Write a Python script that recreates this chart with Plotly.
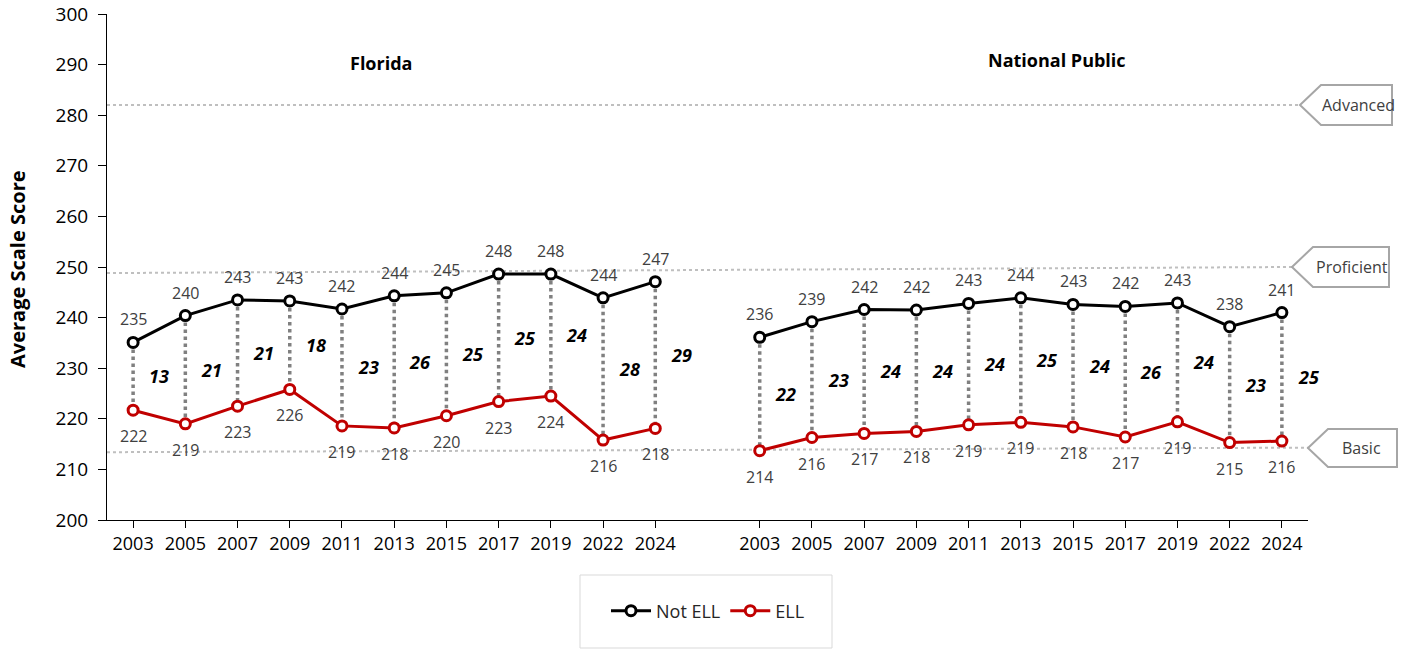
import plotly.graph_objects as go

# NAEP grade 4 math, average scale scores
years = ["2003", "2005", "2007", "2009", "2011", "2013", "2015", "2017", "2019", "2022", "2024"]

fl_not_ell = [235.1, 240.4, 243.5, 243.3, 241.7, 244.3, 244.9, 248.6, 248.6, 243.9, 247.1]
fl_ell = [221.7, 219.0, 222.5, 225.8, 218.6, 218.2, 220.6, 223.4, 224.5, 215.8, 218.1]
fl_not_ell_lbl = [235, 240, 243, 243, 242, 244, 245, 248, 248, 244, 247]
fl_ell_lbl = [222, 219, 223, 226, 219, 218, 220, 223, 224, 216, 218]
fl_gap = [13, 21, 21, 18, 23, 26, 25, 25, 24, 28, 29]

np_not_ell = [236.1, 239.2, 241.6, 241.5, 242.8, 243.9, 242.6, 242.2, 242.9, 238.2, 241.0]
np_ell = [213.7, 216.3, 217.1, 217.5, 218.8, 219.3, 218.4, 216.4, 219.4, 215.3, 215.6]
np_not_ell_lbl = [236, 239, 242, 242, 243, 244, 243, 242, 243, 238, 241]
np_ell_lbl = [214, 216, 217, 218, 219, 219, 218, 217, 219, 215, 216]
np_gap = [22, 23, 24, 24, 24, 25, 24, 26, 24, 23, 25]

groups = ["Florida", "National Public"]
levels = ["Advanced", "Proficient", "Basic"]

FONT = "Open Sans"
BLACK = "#000000"
RED = "#C00000"
GRAY = "#808080"
TXT = "#404040"

# x positions: Florida 0..10, gap at 11, National 12..22
fl_x = list(range(len(years)))
np_x = [i + len(years) + 1 for i in range(len(years))]

fig = go.Figure()

# dotted connectors between the two series
for xs, top, bot in [(fl_x, fl_not_ell, fl_ell), (np_x, np_not_ell, np_ell)]:
    cx, cy = [], []
    for x, a, b in zip(xs, top, bot):
        cx += [x, x, None]
        cy += [a, b, None]
    fig.add_trace(go.Scatter(x=cx, y=cy, mode="lines", showlegend=False, hoverinfo="skip",
                             line=dict(color=GRAY, width=3.5, dash="dot")))

for name, color, fl_vals, np_vals in [("Not ELL", BLACK, fl_not_ell, np_not_ell),
                                      ("ELL", RED, fl_ell, np_ell)]:
    for i, (xs, vals) in enumerate([(fl_x, fl_vals), (np_x, np_vals)]):
        fig.add_trace(go.Scatter(
            x=xs, y=vals, mode="lines+markers", name=name,
            showlegend=(i == 0), legendgroup=name,
            line=dict(color=color, width=3),
            marker=dict(symbol="circle", size=10, color="white",
                        line=dict(color=color, width=3)),
        ))

annotations = []
for xs, top, bot, tl, bl, gaps in [(fl_x, fl_not_ell, fl_ell, fl_not_ell_lbl, fl_ell_lbl, fl_gap),
                                   (np_x, np_not_ell, np_ell, np_not_ell_lbl, np_ell_lbl, np_gap)]:
    for x, a, b, la, lb, g in zip(xs, top, bot, tl, bl, gaps):
        annotations.append(dict(x=x, y=a, text=str(la), showarrow=False, yshift=23,
                                font=dict(size=16, color=TXT, family=FONT)))
        annotations.append(dict(x=x, y=b, text=str(lb), showarrow=False, yshift=-26,
                                font=dict(size=16, color=TXT, family=FONT)))
        annotations.append(dict(x=x + 0.5, y=(a + b) / 2, text="<b><i>%d</i></b>" % g,
                                showarrow=False,
                                font=dict(size=18, color=BLACK, family=FONT)))

# plot area in pixels, used for items placed outside it
L, R, T, B = 107, 1308, 14, 520


def px(xp):
    return (xp - L) / (R - L)


def py(yp):
    return (B - yp) / (B - T)


# group titles
annotations.append(dict(xref="paper", yref="paper", x=px(381), y=py(63), text="<b>%s</b>" % groups[0],
                        xanchor="center", yanchor="middle",
                        showarrow=False, font=dict(size=18, color=BLACK, family=FONT)))
annotations.append(dict(xref="paper", yref="paper", x=px(1057), y=py(60), text="<b>%s</b>" % groups[1],
                        xanchor="center", yanchor="middle",
                        showarrow=False, font=dict(size=18, color=BLACK, family=FONT)))

# y axis title
annotations.append(dict(xref="paper", yref="paper", x=px(17), y=py(269), text="<b>Average Scale Score</b>",
                        xanchor="center", yanchor="middle",
                        textangle=-90, showarrow=False, font=dict(size=20, color=BLACK, family=FONT)))

shapes = []
# achievement level lines (slight tilt as in the original)
level_lines = [(282, 282, 1300), (248.8, 250.0, 1292), (213.4, 214.3, 1308)]
for y0, y1, xend in level_lines:
    shapes.append(dict(type="line", xref="paper", yref="y", x0=0, x1=px(xend), y0=y0, y1=y1,
                       line=dict(color="#BFBFBF", width=2, dash="dot"), layer="below"))

# callout boxes: tip, top-left, right, bottom
callouts = [(1300, 105, 1321, 85, 1392, 125, 1358),
            (1292, 267, 1313, 247, 1389, 287, 1352),
            (1308, 448, 1328, 429, 1397, 467, 1361)]
for lvl, (tx, ty, lx, top, rx, bot, cx) in zip(levels, callouts):
    path = "M %f,%f L %f,%f L %f,%f L %f,%f L %f,%f Z" % (
        px(tx), py(ty), px(lx), py(top), px(rx), py(top), px(rx), py(bot), px(lx), py(bot))
    shapes.append(dict(type="path", xref="paper", yref="paper", path=path,
                       fillcolor="white", line=dict(color="#A6A6A6", width=2)))
    annotations.append(dict(xref="paper", yref="paper", x=px(cx), y=py(ty), text=lvl,
                            xanchor="center", yanchor="middle",
                            showarrow=False, font=dict(size=16, color=TXT, family=FONT)))

# legend frame
shapes.append(dict(type="rect", xref="paper", yref="paper", x0=px(580), x1=px(832), y0=py(575), y1=py(648),
                   line=dict(color="#D9D9D9", width=1), fillcolor="rgba(0,0,0,0)"))

fig.update_layout(
    width=1403, height=651,
    margin=dict(l=L, r=1403 - R, t=T, b=651 - B, autoexpand=False),
    plot_bgcolor="white", paper_bgcolor="white",
    font=dict(family=FONT, color="#262626"),
    showlegend=True,
    legend=dict(orientation="h", x=px(708), xanchor="center", y=py(611), yanchor="middle",
                font=dict(size=18, color="#262626", family=FONT), bgcolor="rgba(0,0,0,0)",
                itemwidth=40),
    annotations=annotations,
    shapes=shapes,
)

fig.update_xaxes(
    range=[-0.5, 2 * len(years) + 0.5],
    tickmode="array", tickvals=fl_x + np_x, ticktext=years + years,
    showline=True, linecolor=BLACK, linewidth=1,
    ticks="outside", ticklen=7, tickcolor=BLACK,
    tickfont=dict(size=18, color=BLACK, family=FONT),
    showgrid=False, zeroline=False, fixedrange=True, automargin=False,
)
fig.update_yaxes(
    range=[200, 300], dtick=10, tick0=200,
    showline=True, linecolor=BLACK, linewidth=1,
    ticks="outside", ticklen=8, tickcolor=BLACK, ticklabelstandoff=6,
    tickfont=dict(size=19, color=BLACK, family=FONT),
    showgrid=False, zeroline=False, fixedrange=True, automargin=False,
)

# drop the default page margin so the figure sits at the window origin
fig.write_html("out.html", config={"displayModeBar": False},
               post_script="document.body.style.margin='0';")
